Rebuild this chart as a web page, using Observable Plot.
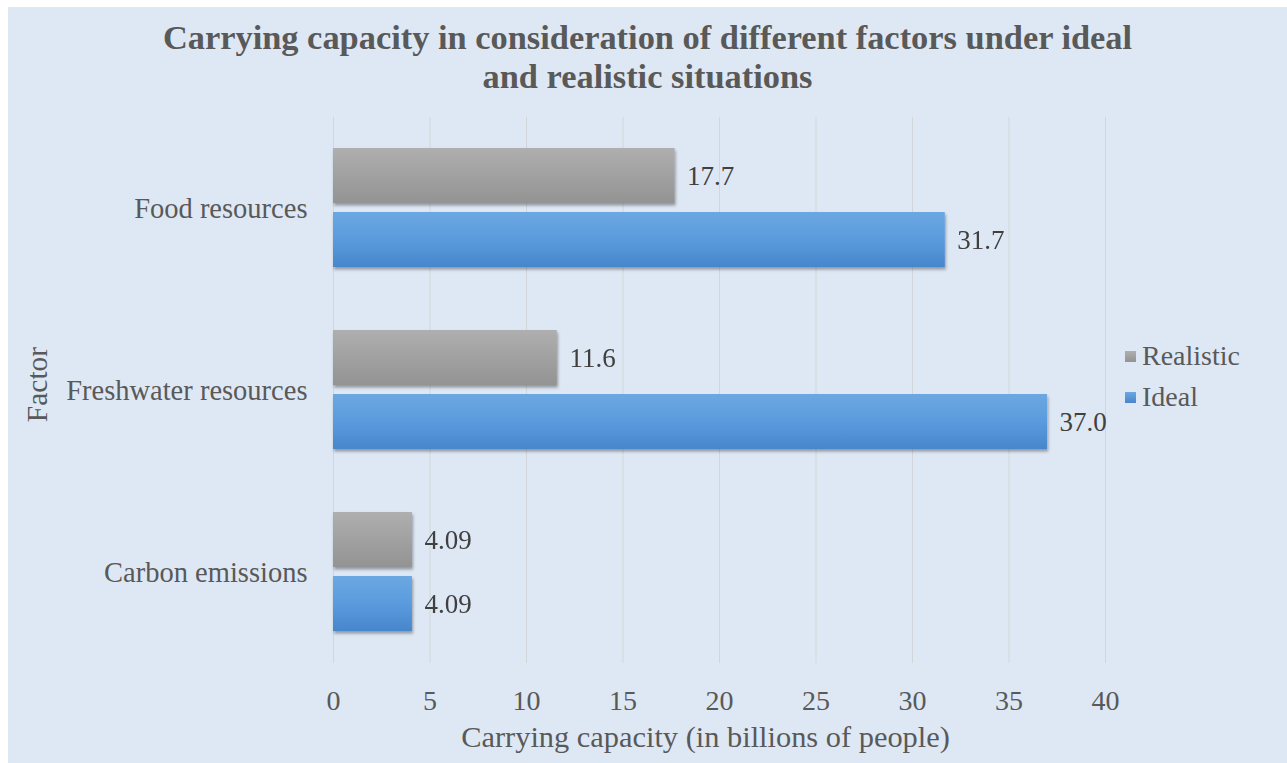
<!DOCTYPE html>
<html>
<head>
<meta charset="utf-8">
<script src="https://cdn.jsdelivr.net/npm/d3@7"></script>
<script src="https://cdn.jsdelivr.net/npm/@observablehq/plot@0.6"></script>
<style>
  html, body { margin: 0; padding: 0; background: #ffffff; }
  #wrap { position: absolute; left: 8px; top: 7px; width: 1279px; height: 756px; background: #dee8f4; overflow: hidden; font-family: "Liberation Serif", "Times New Roman", serif; }
  #title { height: 98px; box-sizing: border-box; padding-top: 11px; text-align: center; font-weight: bold; font-size: 34.4px; line-height: 39px; color: #595959; }
  #legend { position: absolute; left: 1117px; top: 328px; font-size: 28px; color: #595959; line-height: 41px; }
  .sw { display: inline-block; width: 11px; height: 11px; margin-right: 6px; vertical-align: 3px; }
  svg { display: block; }
</style>
</head>
<body>
<div id="wrap">
  <div id="title">Carrying capacity in consideration of different factors under ideal<br>and realistic situations</div>
  <div id="chart"></div>
  <div id="legend"></div>
</div>
<script>
const factors = ["Food resources", "Freshwater resources", "Carbon emissions"];
const series = ["Realistic", "Ideal"];
const realistic = [17.7, 11.6, 4.09];
const ideal = [31.7, 37.0, 4.09];
const realisticLabels = ["17.7", "11.6", "4.09"];
const idealLabels = ["31.7", "37.0", "4.09"];
const xTicks = [0, 5, 10, 15, 20, 25, 30, 35, 40];
const xLabel = "Carrying capacity (in billions of people)";
const yLabel = "Factor";

const rows = [];
factors.forEach((f, i) => {
  rows.push({factor: f, series: "Realistic", value: realistic[i], label: realisticLabels[i]});
  rows.push({factor: f, series: "Ideal", value: ideal[i], label: idealLabels[i]});
});

const plot = Plot.plot({
  width: 1279,
  height: 658,
  marginTop: 11,
  marginBottom: 100,
  marginLeft: 325,
  marginRight: 182,
  style: {background: "transparent", fontFamily: "'Liberation Serif', 'Times New Roman', serif", fontSize: "28px", color: "#595959", overflow: "visible"},
  x: {domain: [0, 40], axis: null},
  y: {domain: series, paddingInner: 0.1385, paddingOuter: 0.472, axis: null},
  fy: {domain: factors, padding: 0, axis: null},
  marks: [
    Plot.gridX(xTicks, {stroke: "#d3d6d9", strokeOpacity: 1, strokeWidth: 1}),
    Plot.axisX(xTicks, {anchor: "bottom", tickSize: 0, tickPadding: 27, label: null, fill: "#595959", fontSize: 28}),
    Plot.axisFy({anchor: "left", tickSize: 0, tickPadding: 26, label: null, fill: "#595959", fontSize: 28.5}),
    Plot.barX(rows.filter(d => d.series === "Realistic"), {x: "value", y: "series", fy: "factor", fill: "url(#gGray)"}),
    Plot.barX(rows.filter(d => d.series === "Ideal"), {x: "value", y: "series", fy: "factor", fill: "url(#gBlue)"}),
    Plot.text(rows, {x: "value", y: "series", fy: "factor", text: "label", textAnchor: "start", dx: 12, fill: "#404040", fontSize: 27}),
    Plot.text([yLabel], {fy: () => factors[1], frameAnchor: "left", textAnchor: "middle", dx: -296, dy: -6, rotate: -90, text: d => d, fill: "#595959", fontSize: 29.5}),
    Plot.text([xLabel], {fy: () => factors[2], frameAnchor: "bottom", textAnchor: "middle", dx: -14, dy: 83, text: d => d, fill: "#595959", fontSize: 30.4})
  ]
});

const defs = document.createElementNS("http://www.w3.org/2000/svg", "defs");
defs.innerHTML = `
  <linearGradient id="gGray" x1="0" y1="0" x2="0" y2="1">
    <stop offset="0" stop-color="#afafaf"/>
    <stop offset="1" stop-color="#939393"/>
  </linearGradient>
  <linearGradient id="gBlue" x1="0" y1="0" x2="0" y2="1">
    <stop offset="0" stop-color="#6ca8e1"/>
    <stop offset="0.5" stop-color="#5a9bde"/>
    <stop offset="1" stop-color="#4786cb"/>
  </linearGradient>
  <filter id="sh" x="-5%" y="-20%" width="115%" height="160%">
    <feDropShadow dx="1" dy="2.5" stdDeviation="1.6" flood-color="#000" flood-opacity="0.35"/>
  </filter>`;
plot.insertBefore(defs, plot.firstChild);
plot.querySelectorAll('g[aria-label="bar"]').forEach(g => g.setAttribute("filter", "url(#sh)"));
document.getElementById("chart").appendChild(plot);

const legend = document.getElementById("legend");
const legendColors = {Realistic: "linear-gradient(#afafaf,#939393)", Ideal: "linear-gradient(#6ca8e1,#4786cb)"};
series.forEach(s => {
  const row = document.createElement("div");
  const sw = document.createElement("span");
  sw.className = "sw";
  sw.style.background = legendColors[s];
  row.appendChild(sw);
  row.appendChild(document.createTextNode(s));
  legend.appendChild(row);
});
</script>
</body>
</html>
